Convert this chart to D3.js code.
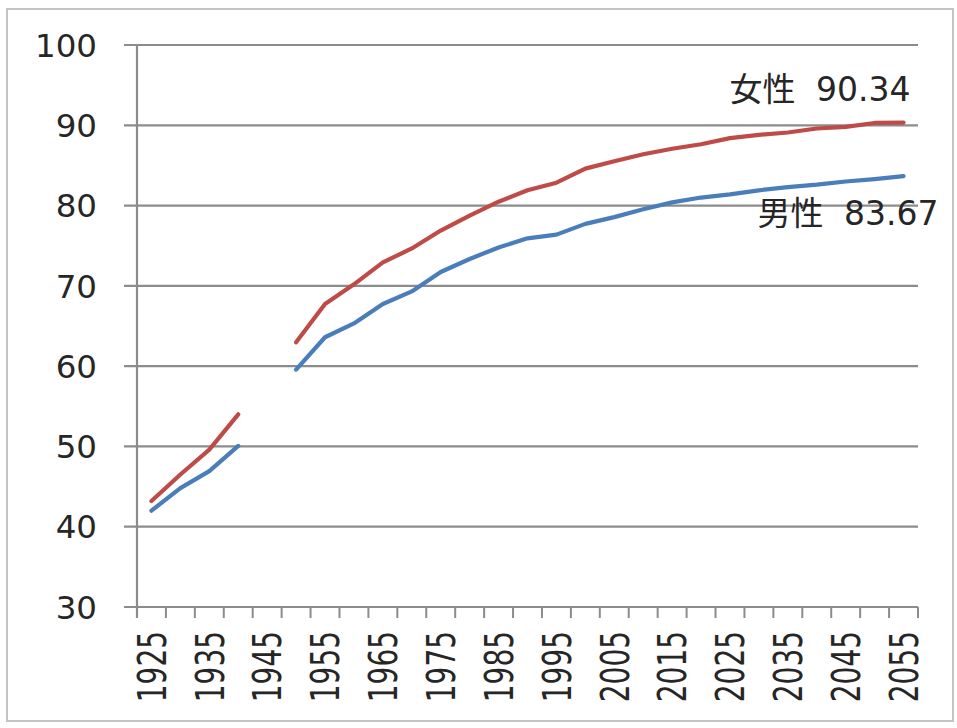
<!DOCTYPE html>
<html><head><meta charset="utf-8">
<script src="https://cdn.jsdelivr.net/npm/d3@7/dist/d3.min.js"></script>
<style>html,body{margin:0;padding:0;background:#fff;}</style>
</head><body>
<script>
const years = ["1925","1930","1935","1940","1945","1950","1955","1960","1965","1970","1975","1980","1985","1990","1995","2000","2005","2010","2015","2020","2025","2030","2035","2040","2045","2050","2055"];
const female = [43.2,46.5,49.6,54.0,null,62.97,67.75,70.19,72.92,74.66,76.89,78.76,80.48,81.90,82.85,84.60,85.52,86.39,87.08,87.64,88.4,88.81,89.1,89.6,89.8,90.29,90.34];
const male = [42.0,44.8,46.92,50.06,null,59.57,63.60,65.32,67.74,69.31,71.73,73.35,74.78,75.92,76.38,77.72,78.56,79.55,80.4,81.0,81.4,81.9,82.3,82.6,83.0,83.3,83.67];
const yTicks = [30,40,50,60,70,80,90,100];
const labelNames = ["女性","男性"];
const labelValues = ["90.34","83.67"];

const W=957,H=728;
const svg=d3.select("body").append("svg").attr("width",W).attr("height",H);
svg.append("rect").attr("x",7).attr("y",9).attr("width",946).attr("height",712)
  .attr("fill","#fff").attr("stroke","#c4c4c4").attr("stroke-width",2);

const x=d3.scaleBand().domain(years).range([137,918]).padding(0);
const y=d3.scaleLinear().domain([30,100]).range([607,45]);
const grid="#8c8c8c";
const font="'DejaVu Sans','Noto Sans CJK JP',sans-serif";
const txt="#262626";

const g=svg.append("g");
g.selectAll("line.grid").data(yTicks).join("line")
  .attr("x1",124).attr("x2",918).attr("y1",d=>y(d)).attr("y2",d=>y(d))
  .attr("stroke",grid).attr("stroke-width",2.2);
g.selectAll("text.yl").data(yTicks).join("text")
  .attr("x",97).attr("y",d=>y(d)).attr("dy","0.36em").attr("text-anchor","end")
  .attr("font-family",font).attr("font-size",32.5).attr("fill",txt).text(d=>d);
g.append("line").attr("x1",137).attr("x2",137).attr("y1",y(100)).attr("y2",618)
  .attr("stroke",grid).attr("stroke-width",2.2);
const bounds=years.map(d=>x(d)).concat([x.range()[1]]);
g.selectAll("line.xt").data(bounds).join("line")
  .attr("x1",d=>d).attr("x2",d=>d).attr("y1",y(30)).attr("y2",618)
  .attr("stroke",grid).attr("stroke-width",2);
g.selectAll("text.xl").data(years.filter((d,i)=>i%2===0)).join("text")
  .attr("transform",d=>`translate(${x(d)+x.bandwidth()/2},631) scale(1.42,1) rotate(-90)`)
  .attr("dy","0.36em").attr("text-anchor","end")
  .attr("font-family",font).attr("font-size",28).attr("fill",txt).text(d=>d);

const line=vals=>d3.line().defined(d=>d!=null)
  .x((d,i)=>x(years[i])+x.bandwidth()/2).y(d=>y(d))(vals);
svg.append("path").attr("d",line(male)).attr("fill","none").attr("stroke","#4a7ebb")
  .attr("stroke-width",4.2).attr("stroke-linejoin","round").attr("stroke-linecap","round");
svg.append("path").attr("d",line(female)).attr("fill","none").attr("stroke","#be4b48")
  .attr("stroke-width",4.2).attr("stroke-linejoin","round").attr("stroke-linecap","round");

const last=years.length-1;
const cx=x(years[last])+x.bandwidth()/2;
function endLabel(i, val, dxEnd, dyBase){
  const t=svg.append("text").attr("x",cx+dxEnd).attr("y",y(val)+dyBase)
    .attr("text-anchor","end").attr("font-family",font).attr("fill",txt);
  t.append("tspan").attr("font-size",33).text(labelNames[i]);
  t.append("tspan").attr("font-size",33).attr("dx",10).text(" "+labelValues[i]);
}
endLabel(0, female[last], 7, -22);
endLabel(1, male[last], 35, 49);
</script>
</body></html>
